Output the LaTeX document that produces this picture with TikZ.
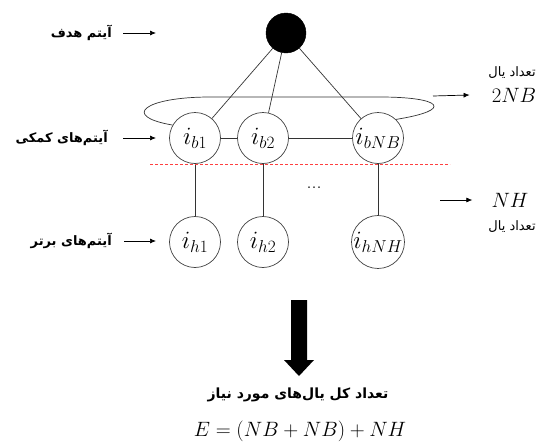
\documentclass[tikz,border=0pt]{standalone}
\usepackage{fontspec}
\usepackage{amsmath}
\usetikzlibrary{arrows.meta}
\TeXXeTstate=1
\newfontfamily\arabicfont[Script=Arabic]{DejaVu Sans}
\newfontfamily\arabicbold[Script=Arabic]{DejaVu Sans Bold}
\tikzset{
  item/.style={circle,draw=black!75,line width=0.7pt,minimum size=51pt,inner sep=0pt,font=\fontsize{24}{26}\selectfont},
  edge/.style={draw=black!80,line width=0.7pt},
  arr/.style={draw=black,line width=0.7pt,-{Latex[length=6pt,width=5pt]}},
  lab/.style={font=\fontsize{13}{15}\selectfont\arabicbold,inner sep=0pt},
  smalllab/.style={font=\fontsize{13}{15}\selectfont\arabicfont,inner sep=0pt},
  mathlab/.style={font=\fontsize{20}{22}\selectfont,inner sep=0pt}
}
\begin{document}
\begin{tikzpicture}[x=1pt,y=-1pt]
\useasboundingbox (0,0) rectangle (542,442);
% nodes
\node[circle,fill=black,draw=black,minimum size=40pt,inner sep=0pt] (t) at (286,33) {};
\node[item] (b1) at (195,138) {$i_{b1}$};
\node[item] (b2) at (263,138) {$i_{b2}$};
\node[item] (bn) at (378,138) {$i_{bNB}$};
\node[item] (h1) at (195,242) {$i_{h1}$};
\node[item] (h2) at (263,242) {$i_{h2}$};
\node[item] (hn) at (378,242) {$i_{hNH}$};
\node[font=\fontsize{20}{22}\selectfont,inner sep=0pt] (dots) at (314,188) {...};
% edges
\draw[edge] (t) -- (b1);
\draw[edge] (t) -- (b2);
\draw[edge] (t) -- (bn);
\draw[edge] (b1) -- (b2);
\draw[edge] (b2) -- (bn);
\draw[edge] (b1) -- (h1);
\draw[edge] (b2) -- (h2);
\draw[edge] (bn) -- (hn);
\draw[edge] (b1.150) .. controls (120,116) and (145,97) .. (210,97)
  -- (380,97) .. controls (442,97) and (455,110) .. (bn.46);
% red dashed separator
\coordinate (sepL) at (150,164);
\coordinate (sepR) at (450,164);
\draw[red!75,line width=0.5pt,dash pattern=on 3pt off 2pt] (sepL) -- (sepR);
% left labels
\node[lab,anchor=east] (lt) at (112,33) {\beginR آیتم هدف\endR};
\node[lab,anchor=east] (lb) at (108,138) {\beginR آیتم‌های کمکی\endR};
\node[lab,anchor=east] (lh) at (112,241) {\beginR آیتم‌های برتر\endR};
\coordinate (at) at (156,33);
\coordinate (ab) at (156,138);
\coordinate (ah) at (156,241);
\draw[arr] ([xshift=11pt]lt.east) -- (at);
\draw[arr] ([xshift=15pt]lb.east) -- (ab);
\draw[arr] ([xshift=12pt]lh.east) -- (ah);
% right labels
\node[smalllab] (r1) at (512,73) {\beginR تعداد یال\endR};
\node[mathlab] (r2) at (514,95) {$2NB$};
\coordinate (r2s) at (433,96);
\draw[arr] (r2s) -- ([xshift=-22pt]r2.west);
\node[mathlab] (r3) at (510,200) {$NH$};
\node[smalllab] (r4) at (512,227) {\beginR تعداد یال\endR};
\coordinate (r3s) at (440,200);
\draw[arr] (r3s) -- ([xshift=-19pt]r3.west);
% big arrow and total
\node[lab,font=\fontsize{14}{16}\selectfont\arabicbold] (total) at (298,395) {\beginR تعداد کل یال‌های مورد نیاز\endR};
\node[mathlab,font=\fontsize{22}{24}\selectfont] (eq) at (300,431) {$E=(NB+NB)+NH$};
\fill[black] (291,300) -- (307,300) -- (307,360) -- (314,360) -- (299,376) -- (284,360) -- (291,360) -- cycle;
\end{tikzpicture}
\end{document}
